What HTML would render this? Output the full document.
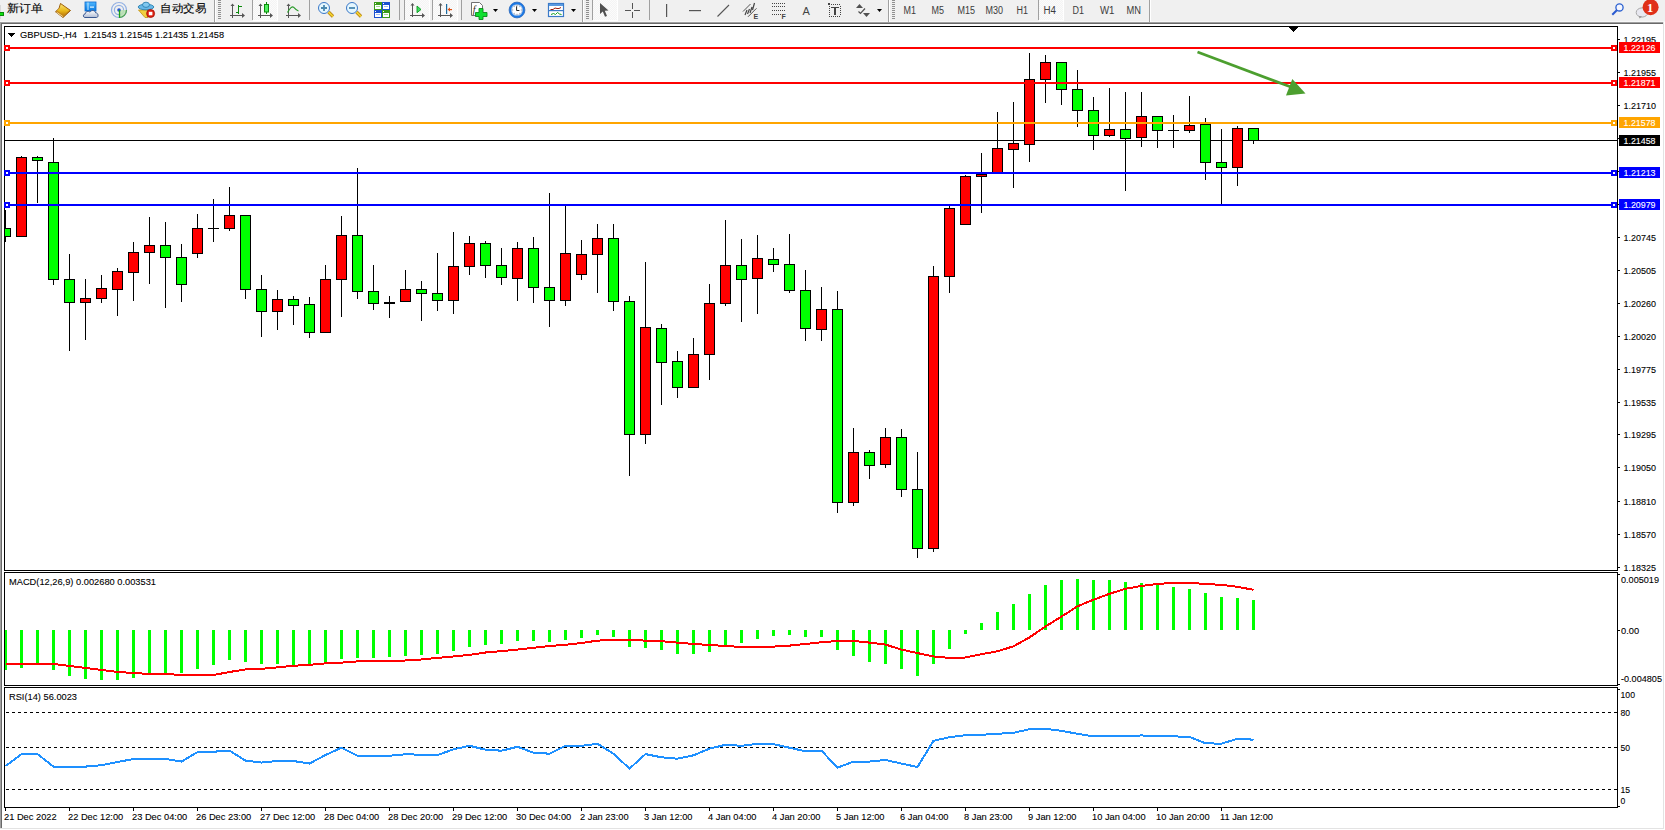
<!DOCTYPE html>
<html><head><meta charset="utf-8"><title>MT4</title>
<style>
html,body{margin:0;padding:0;width:1665px;height:830px;overflow:hidden;background:#ffffff;font-family:"Liberation Sans",sans-serif;}
.t{font-family:"Liberation Sans",sans-serif;font-size:9.6px;fill:#000;stroke:#000;stroke-width:0.1px;}
.w{fill:#fff;stroke:#fff;stroke-width:0.1px;}
#tb{position:absolute;left:0;top:0;width:1665px;height:22px;background:#f0f0f0;}
</style></head><body>
<div id="tb"><svg width="1665" height="22" viewBox="0 0 1665 22" style="position:absolute;left:0;top:0">
<defs>
<linearGradient id="gbook" x1="0" y1="0" x2="0" y2="1"><stop offset="0" stop-color="#f8e070"/><stop offset="0.6" stop-color="#e8b818"/><stop offset="1" stop-color="#c08010"/></linearGradient>
<linearGradient id="gcloud" x1="0" y1="0" x2="0" y2="1"><stop offset="0" stop-color="#ffffff"/><stop offset="1" stop-color="#b0bcd4"/></linearGradient>
<linearGradient id="gbox" x1="0" y1="0" x2="0" y2="1"><stop offset="0" stop-color="#50b8ff"/><stop offset="1" stop-color="#0878e0"/></linearGradient>
<radialGradient id="gclock" cx="0.5" cy="0.5" r="0.5"><stop offset="0.7" stop-color="#1e7ee0"/><stop offset="1" stop-color="#0a4aa8"/></radialGradient>
<pattern id="chk" width="2" height="2" patternUnits="userSpaceOnUse"><rect width="2" height="2" fill="#f4f4f4"/><rect width="1" height="1" fill="#fbfbfb"/><rect x="1" y="1" width="1" height="1" fill="#fbfbfb"/></pattern>
</defs>
<rect x="0" y="0" width="1665" height="21" fill="#f0f0f0"/>
<rect x="0" y="21" width="1665" height="1" fill="#f7f7f7"/>
<!-- partial icon at left -->
<rect x="0" y="5" width="1" height="14" fill="#d8d8d8"/>
<rect x="0" y="12" width="4" height="4" fill="#0a8a0a"/>
<rect x="0" y="13" width="3" height="2" fill="#10e010"/>
<!-- new order text -->
<text x="7" y="12.2" font-family="Liberation Sans, sans-serif" font-size="11" fill="#000" stroke="#000" stroke-width="0.12" textLength="36" lengthAdjust="spacingAndGlyphs">新订单</text>
<!-- book -->
<polygon points="60.5,3.5 70.5,10.5 63,17.5 55.5,11.8 59,8.5" fill="#c88a18" stroke="#9a5c08" stroke-width="1" stroke-linejoin="round"/>
<polygon points="60.8,4.3 69.3,10.3 63.5,15.3 57,10.6 59.6,8.2" fill="url(#gbook)"/>
<line x1="56.5" y1="12.2" x2="62.8" y2="16.6" stroke="#f8e8b0" stroke-width="0.9"/>
<!-- cloud doc -->
<rect x="85" y="2" width="11" height="9" fill="url(#gbox)" stroke="#0a6ad0" stroke-width="0.8"/>
<line x1="88" y1="2.5" x2="88" y2="10" stroke="#c8ecff" stroke-width="1"/>
<rect x="90" y="6.5" width="4" height="1.2" fill="#e8f8ff"/>
<path d="M85,17.5 C82.8,17.5 82.8,14 85.2,14 C85.2,11.5 88.6,10.6 90,12.2 C91,9.8 95.2,10 95.6,12.8 C98.6,12.8 98.8,17.5 96.5,17.5 Z" fill="url(#gcloud)" stroke="#3a5890" stroke-width="1"/>
<!-- radar -->
<circle cx="119" cy="10" r="7.5" fill="none" stroke="#7aa0e0" stroke-width="1.2" opacity="0.8"/>
<circle cx="119" cy="10" r="4.6" fill="none" stroke="#7aa0e0" stroke-width="1.2" opacity="0.8"/>
<path d="M119,10 L119,17.5 A7.5,7.5 0 0 0 126.5,10 Z" fill="#b8e0b0" opacity="0.85"/>
<path d="M119,17.5 A7.5,7.5 0 0 0 126.5,10" fill="none" stroke="#4aa050" stroke-width="1.2"/>
<circle cx="119" cy="10" r="1.8" fill="#2a5ad0"/>
<line x1="119.5" y1="10" x2="119.5" y2="17.8" stroke="#18a018" stroke-width="1.3"/>
<!-- auto trading hat -->
<polygon points="138.5,10 149,10 148,17.5 145,17.5" fill="#f0d040" stroke="#c09010" stroke-width="0.8"/>
<ellipse cx="146" cy="7" rx="7.8" ry="2.8" fill="#68b8e8" stroke="#2a80b0" stroke-width="0.9"/>
<ellipse cx="146" cy="4.8" rx="3.5" ry="2.6" fill="#80c8f0" stroke="#2a80b0" stroke-width="0.9"/>
<circle cx="150.6" cy="13.5" r="4" fill="#e02010" stroke="#a01008" stroke-width="0.8"/>
<rect x="148.8" y="11.8" width="3.6" height="3.5" fill="#fff"/>
<text x="160" y="12.2" font-family="Liberation Sans, sans-serif" font-size="11" fill="#000" stroke="#000" stroke-width="0.12" textLength="46" lengthAdjust="spacingAndGlyphs">自动交易</text>
<!-- separators & grips -->
<g fill="#a0a0a0">
<rect x="214" y="0" width="1" height="22"/>
<rect x="252" y="0" width="1" height="20"/>
<rect x="309" y="0" width="1" height="20"/>
<rect x="399" y="0" width="1" height="20"/>
<rect x="404" y="0" width="1" height="20"/>
<rect x="432" y="0" width="1" height="20"/>
<rect x="461" y="0" width="1" height="20"/>
<rect x="582" y="0" width="1" height="22"/>
<rect x="592" y="0" width="1" height="20"/>
<rect x="649" y="0" width="1" height="20"/>
<rect x="888" y="0" width="1" height="22"/>
<rect x="1038" y="0" width="1" height="20"/>
<rect x="1149" y="0" width="1" height="22"/>
</g>
<g fill="#ffffff"><rect x="215" y="0" width="1" height="22"/><rect x="583" y="0" width="1" height="22"/><rect x="889" y="0" width="1" height="22"/><rect x="1150" y="0" width="1" height="22"/></g>
<g fill="#909090">
<path d="M218,0h3v1h-3zM218,2h3v1h-3zM218,4h3v1h-3zM218,6h3v1h-3zM218,8h3v1h-3zM218,10h3v1h-3zM218,12h3v1h-3zM218,14h3v1h-3zM218,16h3v1h-3zM218,18h3v1h-3z"/>
<path d="M586,0h3v1h-3zM586,2h3v1h-3zM586,4h3v1h-3zM586,6h3v1h-3zM586,8h3v1h-3zM586,10h3v1h-3zM586,12h3v1h-3zM586,14h3v1h-3zM586,16h3v1h-3zM586,18h3v1h-3z"/>
<path d="M892,0h3v1h-3zM892,2h3v1h-3zM892,4h3v1h-3zM892,6h3v1h-3zM892,8h3v1h-3zM892,10h3v1h-3zM892,12h3v1h-3zM892,14h3v1h-3zM892,16h3v1h-3zM892,18h3v1h-3z"/>
</g>
<!-- pressed buttons -->
<rect x="253" y="0" width="24" height="20" fill="url(#chk)"/>
<rect x="253" y="20" width="25" height="1" fill="#fff"/><rect x="277" y="0" width="1" height="21" fill="#fff"/>
<rect x="405" y="0" width="24" height="20" fill="url(#chk)"/>
<rect x="405" y="20" width="25" height="1" fill="#fff"/><rect x="429" y="0" width="1" height="21" fill="#fff"/>
<rect x="433" y="0" width="24" height="20" fill="url(#chk)"/>
<rect x="433" y="20" width="25" height="1" fill="#fff"/><rect x="457" y="0" width="1" height="21" fill="#fff"/>
<rect x="593" y="0" width="24" height="20" fill="url(#chk)"/>
<rect x="593" y="20" width="25" height="1" fill="#fff"/><rect x="617" y="0" width="1" height="21" fill="#fff"/>
<rect x="1039" y="0" width="24" height="20" fill="url(#chk)"/>
<rect x="1039" y="20" width="25" height="1" fill="#fff"/><rect x="1063" y="0" width="1" height="21" fill="#fff"/>
<!-- axis icons -->
<g fill="#555" shape-rendering="crispEdges">
<rect x="232" y="5" width="1" height="13"/><rect x="230" y="15" width="13" height="1"/>
<rect x="260" y="5" width="1" height="13"/><rect x="258" y="15" width="13" height="1"/>
<rect x="288" y="5" width="1" height="13"/><rect x="286" y="15" width="13" height="1"/>
<rect x="412" y="4" width="1" height="13"/><rect x="410" y="15" width="13" height="1"/>
<rect x="440" y="4" width="1" height="13"/><rect x="438" y="15" width="13" height="1"/>
</g>
<g fill="#555">
<polygon points="230.5,6 232.5,3.5 234.5,6"/><polygon points="242,13 245,15.5 242,18"/>
<polygon points="258.5,6 260.5,3.5 262.5,6"/><polygon points="270,13 273,15.5 270,18"/>
<polygon points="286.5,6 288.5,3.5 290.5,6"/><polygon points="298,13 301,15.5 298,18"/>
<polygon points="410.5,5.5 412.5,3 414.5,5.5"/><polygon points="422,13 425,15.5 422,18"/>
<polygon points="438.5,5.5 440.5,3 442.5,5.5"/><polygon points="450,13 453,15.5 450,18"/>
</g>
<!-- bar icon green -->
<g fill="#0a8a0a" shape-rendering="crispEdges"><rect x="238" y="5" width="1" height="9"/><rect x="236" y="12" width="2" height="1"/><rect x="239" y="6" width="3" height="1"/></g>
<!-- candle icon -->
<rect x="266" y="2" width="1" height="12" fill="#0a8a0a"/>
<rect x="264.5" y="4.5" width="4" height="7.5" fill="#50f060" stroke="#0a8a0a" stroke-width="1"/>
<!-- line icon -->
<path d="M287.5,12.5 Q291.5,5.5 293.5,7.2 Q296.5,10.5 298.5,11" fill="none" stroke="#2a9a2a" stroke-width="1.2"/>
<!-- zoom in/out -->
<g>
<line x1="328.5" y1="12" x2="333" y2="16.5" stroke="#b07808" stroke-width="3.2"/>
<line x1="328.5" y1="12" x2="333" y2="16.5" stroke="#f0d030" stroke-width="1.8"/>
<circle cx="324" cy="8" r="5.5" fill="#e4f6fe" stroke="#3a78c8" stroke-width="1"/>
<path d="M321,8h6M324,5v6" stroke="#4a88b0" stroke-width="1.8"/>
<line x1="356.5" y1="12" x2="361" y2="16.5" stroke="#b07808" stroke-width="3.2"/>
<line x1="356.5" y1="12" x2="361" y2="16.5" stroke="#f0d030" stroke-width="1.8"/>
<circle cx="352" cy="8" r="5.5" fill="#e4f6fe" stroke="#3a78c8" stroke-width="1"/>
<path d="M349,8h6" stroke="#4a88b0" stroke-width="1.8"/>
</g>
<!-- tile -->
<g shape-rendering="crispEdges">
<rect x="374" y="2" width="8" height="8" fill="#3a9a18"/><rect x="382" y="2" width="8" height="8" fill="#1a50d0"/>
<rect x="374" y="10" width="8" height="8" fill="#1a50d0"/><rect x="382" y="10" width="8" height="8" fill="#3a9a18"/>
<rect x="375" y="5" width="6" height="4" fill="#fff"/><rect x="383" y="5" width="6" height="4" fill="#fff"/>
<rect x="375" y="13" width="6" height="4" fill="#fff"/><rect x="383" y="13" width="6" height="4" fill="#fff"/>
<rect x="376" y="6" width="4" height="1" fill="#a0d890"/><rect x="384" y="6" width="4" height="1" fill="#a0b8f0"/>
<rect x="376" y="14" width="4" height="1" fill="#a0b8f0"/><rect x="384" y="14" width="4" height="1" fill="#a0d890"/>
<rect x="375" y="3" width="1" height="1" fill="#fff"/><rect x="383" y="3" width="1" height="1" fill="#fff"/><rect x="375" y="11" width="1" height="1" fill="#fff"/><rect x="383" y="11" width="1" height="1" fill="#fff"/>
</g>
<!-- autoscroll triangle -->
<polygon points="417,6 421,9.5 417,12.7" fill="#40e060" stroke="#0a9a20" stroke-width="0.9"/>
<!-- chart shift -->
<rect x="446" y="4" width="1.2" height="10" fill="#1a6aa0"/>
<polygon points="447.5,9.5 450,7.5 450,11.5" fill="#e05010"/><rect x="449" y="9" width="3" height="1.2" fill="#e05010"/>
<!-- new indicator -->
<path d="M471.5,2.5h8l3,3v10h-11z" fill="#fff" stroke="#707070" stroke-width="1"/>
<text x="472.8" y="12.5" font-family="Liberation Serif, serif" font-style="italic" font-size="10" fill="#3a3020">f</text>
<path d="M479,8.5h4v4h4v4h-4v3h-4v-3h-3.5v-4h3.5z" fill="#10e030" stroke="#0a8a1a" stroke-width="0.9"/>
<polygon points="493,9 498,9 495.5,12" fill="#000"/>
<!-- clock -->
<circle cx="517" cy="10" r="6.8" fill="#fff" stroke="#1a7ae8" stroke-width="1.9"/>
<circle cx="517" cy="10" r="7.9" fill="none" stroke="#0a50b0" stroke-width="0.7"/>
<circle cx="517" cy="10" r="5.4" fill="none" stroke="#0a50b0" stroke-width="0.4"/><g fill="#8890a0"><rect x="516.5" y="5.2" width="1" height="1"/><rect x="516.5" y="13.8" width="1" height="1"/><rect x="512.2" y="9.5" width="1" height="1"/><rect x="520.8" y="9.5" width="1" height="1"/><rect x="514" y="6.3" width="0.8" height="0.8"/><rect x="519.2" y="6.3" width="0.8" height="0.8"/><rect x="514" y="12.9" width="0.8" height="0.8"/><rect x="519.2" y="12.9" width="0.8" height="0.8"/></g>
<path d="M516.6,6.3v4.2h2.8" fill="none" stroke="#222" stroke-width="1"/>
<polygon points="532,9 537,9 534.5,12" fill="#000"/>
<!-- template -->
<rect x="548.5" y="3.5" width="15" height="13" fill="#fff" stroke="#3a7ac8" stroke-width="1.2"/>
<rect x="549" y="4" width="14" height="2" fill="#5a9ae0"/>
<rect x="549" y="10" width="14" height="1.2" fill="#3a7ac8"/>
<polyline points="550.5,9.5 553,9.5 555,8 557,8.5 559,8.5 561,7.5" fill="none" stroke="#a02010" stroke-width="1"/>
<polyline points="551,14.5 553.5,13.5 555.5,14.5 557.5,12.5 559.5,14 561.5,14.5" fill="none" stroke="#10a020" stroke-width="1"/>
<polygon points="571,9 576,9 573.5,12" fill="#000"/>
<!-- cursor -->
<polygon points="600,3 600,14 602.8,11.5 605,16.8 607,15.9 604.8,10.8 608.5,10.5" fill="#505050"/>
<!-- crosshair -->
<g fill="#555" shape-rendering="crispEdges"><rect x="625" y="10" width="6" height="1"/><rect x="634" y="10" width="6" height="1"/><rect x="632" y="3" width="1" height="6"/><rect x="632" y="12" width="1" height="6"/></g>
<!-- vertical / horizontal / trend -->
<rect x="666" y="4" width="1.2" height="13" fill="#555"/>
<rect x="689" y="10" width="12" height="1.2" fill="#555"/>
<line x1="717.5" y1="16.5" x2="729" y2="5" stroke="#555" stroke-width="1.1"/>
<!-- channel -->
<line x1="743" y1="11.5" x2="750.5" y2="4" stroke="#555" stroke-width="1"/>
<line x1="748" y1="16.8" x2="756.5" y2="8.3" stroke="#555" stroke-width="1"/>
<path d="M745,15 L747,10 M747.5,14 L749.5,9 M750,13 L752,7 M752.5,10 L754.5,3" stroke="#444" stroke-width="1.2"/>
<text x="753.5" y="19" font-family="Liberation Sans, sans-serif" font-weight="bold" font-size="7" fill="#444">E</text>
<!-- fibo -->
<g fill="#444" shape-rendering="crispEdges">
<path d="M772,3h1v1h-1zM774,3h1v1h-1zM776,3h1v1h-1zM778,3h1v1h-1zM780,3h1v1h-1zM782,3h1v1h-1zM784,3h1v1h-1z"/>
<path d="M772,6h1v1h-1zM774,6h1v1h-1zM776,6h1v1h-1zM778,6h1v1h-1zM780,6h1v1h-1zM782,6h1v1h-1zM784,6h1v1h-1z"/>
<path d="M772,10h1v1h-1zM774,10h1v1h-1zM776,10h1v1h-1zM778,10h1v1h-1zM780,10h1v1h-1zM782,10h1v1h-1zM784,10h1v1h-1z"/>
<path d="M772,14h1v1h-1zM774,14h1v1h-1zM776,14h1v1h-1zM778,14h1v1h-1zM780,14h1v1h-1z"/>
</g>
<text x="781.5" y="19" font-family="Liberation Sans, sans-serif" font-weight="bold" font-size="7" fill="#444">F</text>
<text x="802.5" y="15" font-family="Liberation Sans, sans-serif" font-size="11" fill="#444">A</text>
<!-- text label -->
<g fill="#444" shape-rendering="crispEdges">
<path d="M829,4h1v1h-1zM831,4h1v1h-1zM833,4h1v1h-1zM835,4h1v1h-1zM837,4h1v1h-1zM839,4h1v1h-1z"/>
<path d="M829,16h1v1h-1zM831,16h1v1h-1zM833,16h1v1h-1zM835,16h1v1h-1zM837,16h1v1h-1zM839,16h1v1h-1z"/>
<path d="M829,6h1v1h-1zM829,8h1v1h-1zM829,10h1v1h-1zM829,12h1v1h-1zM829,14h1v1h-1z"/>
<path d="M840,6h1v1h-1zM840,8h1v1h-1zM840,10h1v1h-1zM840,12h1v1h-1zM840,14h1v1h-1z"/>
<rect x="828" y="3" width="2" height="2"/>
<rect x="831" y="7" width="8" height="1"/><rect x="834" y="7" width="2" height="8"/>
</g>
<!-- arrows -->
<polygon points="856,8 859.5,4 863,8" fill="#505050"/>
<polyline points="858.5,11.5 860.5,13.5 865,8.5" fill="none" stroke="#505050" stroke-width="1.2"/>
<polygon points="863,13 870,13 866.5,17" fill="#505050"/>
<polygon points="877,9 882,9 879.5,12" fill="#000"/>
<!-- timeframes -->
<g font-family="Liberation Sans, sans-serif" font-size="10" fill="#3c3c3c">
<text x="903.5" y="14" textLength="12.5" lengthAdjust="spacingAndGlyphs">M1</text>
<text x="931.5" y="14" textLength="12.5" lengthAdjust="spacingAndGlyphs">M5</text>
<text x="957.5" y="14" textLength="17.5" lengthAdjust="spacingAndGlyphs">M15</text>
<text x="985.5" y="14" textLength="17.5" lengthAdjust="spacingAndGlyphs">M30</text>
<text x="1016.5" y="14" textLength="11.5" lengthAdjust="spacingAndGlyphs">H1</text>
<text x="1043.5" y="14" textLength="12.5" lengthAdjust="spacingAndGlyphs">H4</text>
<text x="1072.5" y="14" textLength="11.5" lengthAdjust="spacingAndGlyphs">D1</text>
<text x="1100" y="14" textLength="14.5" lengthAdjust="spacingAndGlyphs">W1</text>
<text x="1126.5" y="14" textLength="14.5" lengthAdjust="spacingAndGlyphs">MN</text>
</g>
<!-- search -->
<circle cx="1619.5" cy="7.4" r="3.6" fill="#f4f6ff" stroke="#2a60d0" stroke-width="1.3"/>
<line x1="1616.8" y1="10.2" x2="1612.3" y2="14.8" stroke="#2a5ad0" stroke-width="2"/>
<!-- notification -->
<ellipse cx="1642" cy="12.5" rx="5.8" ry="4.6" fill="#e8e8f0" stroke="#a0a0a0" stroke-width="0.9"/>
<polygon points="1639,16 1639.5,18.5 1642,16.5" fill="#909090"/>
<circle cx="1650.6" cy="7.2" r="8" fill="#e03018"/>
<text x="1647" y="11.8" font-family="Liberation Serif, serif" font-weight="bold" font-size="12.5" fill="#fff">1</text>
</svg>
</div>
<svg width="1665" height="830" viewBox="0 0 1665 830" style="position:absolute;left:0;top:0" shape-rendering="crispEdges">
<defs>
<clipPath id="cm"><rect x="5" y="27" width="1612" height="543"/></clipPath>
<clipPath id="cd"><rect x="5" y="573" width="1612" height="112"/></clipPath>
<clipPath id="cr"><rect x="5" y="688" width="1612" height="119"/></clipPath>
</defs>
<!-- frame -->
<rect x="0" y="22" width="1664" height="1" fill="#a0a0a0"/>
<rect x="0" y="23" width="1664" height="1" fill="#696969"/>
<rect x="0" y="22" width="1" height="807" fill="#a0a0a0"/>
<rect x="1" y="23" width="1" height="806" fill="#696969"/>
<rect x="2" y="24" width="1661" height="804" fill="#fff"/>
<rect x="1663" y="22" width="1" height="807" fill="#e3e3e3"/>
<rect x="0" y="828" width="1664" height="1" fill="#e3e3e3"/>
<!-- window borders -->
<rect x="4.5" y="26.5" width="1613" height="544" fill="none" stroke="#000" stroke-width="1"/>
<rect x="4.5" y="572.5" width="1613" height="113" fill="none" stroke="#000" stroke-width="1"/>
<rect x="4.5" y="687.5" width="1613" height="120" fill="none" stroke="#000" stroke-width="1"/>
<g clip-path="url(#cm)"><rect x="5" y="140" width="1612" height="1" fill="#000"/><rect x="5" y="210" width="1" height="32" fill="#000"/><rect x="0" y="228" width="11" height="9" fill="#000"/><rect x="1" y="229" width="9" height="7" fill="#00ff00"/><rect x="21" y="156" width="1" height="81" fill="#000"/><rect x="16" y="157" width="11" height="80" fill="#000"/><rect x="17" y="158" width="9" height="78" fill="#ff0000"/><rect x="37" y="156" width="1" height="47" fill="#000"/><rect x="32" y="157" width="11" height="4" fill="#000"/><rect x="33" y="158" width="9" height="2" fill="#00ff00"/><rect x="53" y="138" width="1" height="147" fill="#000"/><rect x="48" y="162" width="11" height="118" fill="#000"/><rect x="49" y="163" width="9" height="116" fill="#00ff00"/><rect x="69" y="254" width="1" height="97" fill="#000"/><rect x="64" y="279" width="11" height="24" fill="#000"/><rect x="65" y="280" width="9" height="22" fill="#00ff00"/><rect x="85" y="279" width="1" height="61" fill="#000"/><rect x="80" y="298" width="11" height="5" fill="#000"/><rect x="81" y="299" width="9" height="3" fill="#ff0000"/><rect x="101" y="275" width="1" height="28" fill="#000"/><rect x="96" y="288" width="11" height="11" fill="#000"/><rect x="97" y="289" width="9" height="9" fill="#ff0000"/><rect x="117" y="268" width="1" height="48" fill="#000"/><rect x="112" y="271" width="11" height="19" fill="#000"/><rect x="113" y="272" width="9" height="17" fill="#ff0000"/><rect x="133" y="242" width="1" height="59" fill="#000"/><rect x="128" y="252" width="11" height="21" fill="#000"/><rect x="129" y="253" width="9" height="19" fill="#ff0000"/><rect x="149" y="217" width="1" height="67" fill="#000"/><rect x="144" y="245" width="11" height="8" fill="#000"/><rect x="145" y="246" width="9" height="6" fill="#ff0000"/><rect x="165" y="222" width="1" height="86" fill="#000"/><rect x="160" y="245" width="11" height="13" fill="#000"/><rect x="161" y="246" width="9" height="11" fill="#00ff00"/><rect x="181" y="244" width="1" height="58" fill="#000"/><rect x="176" y="257" width="11" height="28" fill="#000"/><rect x="177" y="258" width="9" height="26" fill="#00ff00"/><rect x="197" y="214" width="1" height="44" fill="#000"/><rect x="192" y="228" width="11" height="26" fill="#000"/><rect x="193" y="229" width="9" height="24" fill="#ff0000"/><rect x="213" y="199" width="1" height="43" fill="#000"/><rect x="208" y="228" width="11" height="1" fill="#000"/><rect x="229" y="187" width="1" height="44" fill="#000"/><rect x="224" y="215" width="11" height="14" fill="#000"/><rect x="225" y="216" width="9" height="12" fill="#ff0000"/><rect x="245" y="215" width="1" height="84" fill="#000"/><rect x="240" y="215" width="11" height="75" fill="#000"/><rect x="241" y="216" width="9" height="73" fill="#00ff00"/><rect x="261" y="275" width="1" height="62" fill="#000"/><rect x="256" y="289" width="11" height="23" fill="#000"/><rect x="257" y="290" width="9" height="21" fill="#00ff00"/><rect x="277" y="290" width="1" height="40" fill="#000"/><rect x="272" y="299" width="11" height="13" fill="#000"/><rect x="273" y="300" width="9" height="11" fill="#ff0000"/><rect x="293" y="296" width="1" height="29" fill="#000"/><rect x="288" y="299" width="11" height="7" fill="#000"/><rect x="289" y="300" width="9" height="5" fill="#00ff00"/><rect x="309" y="297" width="1" height="41" fill="#000"/><rect x="304" y="304" width="11" height="29" fill="#000"/><rect x="305" y="305" width="9" height="27" fill="#00ff00"/><rect x="325" y="265" width="1" height="68" fill="#000"/><rect x="320" y="279" width="11" height="54" fill="#000"/><rect x="321" y="280" width="9" height="52" fill="#ff0000"/><rect x="341" y="216" width="1" height="101" fill="#000"/><rect x="336" y="235" width="11" height="45" fill="#000"/><rect x="337" y="236" width="9" height="43" fill="#ff0000"/><rect x="357" y="168" width="1" height="131" fill="#000"/><rect x="352" y="235" width="11" height="57" fill="#000"/><rect x="353" y="236" width="9" height="55" fill="#00ff00"/><rect x="373" y="265" width="1" height="45" fill="#000"/><rect x="368" y="291" width="11" height="13" fill="#000"/><rect x="369" y="292" width="9" height="11" fill="#00ff00"/><rect x="389" y="296" width="1" height="22" fill="#000"/><rect x="384" y="302" width="11" height="2" fill="#000"/><rect x="405" y="270" width="1" height="32" fill="#000"/><rect x="400" y="289" width="11" height="13" fill="#000"/><rect x="401" y="290" width="9" height="11" fill="#ff0000"/><rect x="421" y="281" width="1" height="40" fill="#000"/><rect x="416" y="289" width="11" height="5" fill="#000"/><rect x="417" y="290" width="9" height="3" fill="#00ff00"/><rect x="437" y="253" width="1" height="58" fill="#000"/><rect x="432" y="293" width="11" height="8" fill="#000"/><rect x="433" y="294" width="9" height="6" fill="#00ff00"/><rect x="453" y="232" width="1" height="82" fill="#000"/><rect x="448" y="266" width="11" height="35" fill="#000"/><rect x="449" y="267" width="9" height="33" fill="#ff0000"/><rect x="469" y="236" width="1" height="39" fill="#000"/><rect x="464" y="243" width="11" height="24" fill="#000"/><rect x="465" y="244" width="9" height="22" fill="#ff0000"/><rect x="485" y="241" width="1" height="37" fill="#000"/><rect x="480" y="243" width="11" height="23" fill="#000"/><rect x="481" y="244" width="9" height="21" fill="#00ff00"/><rect x="501" y="248" width="1" height="37" fill="#000"/><rect x="496" y="265" width="11" height="13" fill="#000"/><rect x="497" y="266" width="9" height="11" fill="#00ff00"/><rect x="517" y="242" width="1" height="59" fill="#000"/><rect x="512" y="248" width="11" height="31" fill="#000"/><rect x="513" y="249" width="9" height="29" fill="#ff0000"/><rect x="533" y="237" width="1" height="66" fill="#000"/><rect x="528" y="248" width="11" height="40" fill="#000"/><rect x="529" y="249" width="9" height="38" fill="#00ff00"/><rect x="549" y="193" width="1" height="134" fill="#000"/><rect x="544" y="287" width="11" height="14" fill="#000"/><rect x="545" y="288" width="9" height="12" fill="#00ff00"/><rect x="565" y="206" width="1" height="100" fill="#000"/><rect x="560" y="253" width="11" height="48" fill="#000"/><rect x="561" y="254" width="9" height="46" fill="#ff0000"/><rect x="581" y="240" width="1" height="40" fill="#000"/><rect x="576" y="254" width="11" height="21" fill="#000"/><rect x="577" y="255" width="9" height="19" fill="#ff0000"/><rect x="597" y="224" width="1" height="69" fill="#000"/><rect x="592" y="238" width="11" height="17" fill="#000"/><rect x="593" y="239" width="9" height="15" fill="#ff0000"/><rect x="613" y="224" width="1" height="87" fill="#000"/><rect x="608" y="238" width="11" height="64" fill="#000"/><rect x="609" y="239" width="9" height="62" fill="#00ff00"/><rect x="629" y="296" width="1" height="180" fill="#000"/><rect x="624" y="301" width="11" height="134" fill="#000"/><rect x="625" y="302" width="9" height="132" fill="#00ff00"/><rect x="645" y="262" width="1" height="182" fill="#000"/><rect x="640" y="327" width="11" height="108" fill="#000"/><rect x="641" y="328" width="9" height="106" fill="#ff0000"/><rect x="661" y="324" width="1" height="81" fill="#000"/><rect x="656" y="328" width="11" height="35" fill="#000"/><rect x="657" y="329" width="9" height="33" fill="#00ff00"/><rect x="677" y="351" width="1" height="47" fill="#000"/><rect x="672" y="361" width="11" height="27" fill="#000"/><rect x="673" y="362" width="9" height="25" fill="#00ff00"/><rect x="693" y="338" width="1" height="50" fill="#000"/><rect x="688" y="354" width="11" height="34" fill="#000"/><rect x="689" y="355" width="9" height="32" fill="#ff0000"/><rect x="709" y="284" width="1" height="96" fill="#000"/><rect x="704" y="303" width="11" height="52" fill="#000"/><rect x="705" y="304" width="9" height="50" fill="#ff0000"/><rect x="725" y="220" width="1" height="86" fill="#000"/><rect x="720" y="265" width="11" height="39" fill="#000"/><rect x="721" y="266" width="9" height="37" fill="#ff0000"/><rect x="741" y="239" width="1" height="83" fill="#000"/><rect x="736" y="265" width="11" height="15" fill="#000"/><rect x="737" y="266" width="9" height="13" fill="#00ff00"/><rect x="757" y="235" width="1" height="79" fill="#000"/><rect x="752" y="258" width="11" height="21" fill="#000"/><rect x="753" y="259" width="9" height="19" fill="#ff0000"/><rect x="773" y="248" width="1" height="24" fill="#000"/><rect x="768" y="259" width="11" height="6" fill="#000"/><rect x="769" y="260" width="9" height="4" fill="#00ff00"/><rect x="789" y="234" width="1" height="59" fill="#000"/><rect x="784" y="264" width="11" height="27" fill="#000"/><rect x="785" y="265" width="9" height="25" fill="#00ff00"/><rect x="805" y="270" width="1" height="71" fill="#000"/><rect x="800" y="290" width="11" height="39" fill="#000"/><rect x="801" y="291" width="9" height="37" fill="#00ff00"/><rect x="821" y="287" width="1" height="54" fill="#000"/><rect x="816" y="309" width="11" height="21" fill="#000"/><rect x="817" y="310" width="9" height="19" fill="#ff0000"/><rect x="837" y="291" width="1" height="222" fill="#000"/><rect x="832" y="309" width="11" height="194" fill="#000"/><rect x="833" y="310" width="9" height="192" fill="#00ff00"/><rect x="853" y="428" width="1" height="78" fill="#000"/><rect x="848" y="452" width="11" height="51" fill="#000"/><rect x="849" y="453" width="9" height="49" fill="#ff0000"/><rect x="869" y="450" width="1" height="29" fill="#000"/><rect x="864" y="452" width="11" height="14" fill="#000"/><rect x="865" y="453" width="9" height="12" fill="#00ff00"/><rect x="885" y="428" width="1" height="40" fill="#000"/><rect x="880" y="437" width="11" height="28" fill="#000"/><rect x="881" y="438" width="9" height="26" fill="#ff0000"/><rect x="901" y="429" width="1" height="68" fill="#000"/><rect x="896" y="437" width="11" height="53" fill="#000"/><rect x="897" y="438" width="9" height="51" fill="#00ff00"/><rect x="917" y="452" width="1" height="106" fill="#000"/><rect x="912" y="489" width="11" height="60" fill="#000"/><rect x="913" y="490" width="9" height="58" fill="#00ff00"/><rect x="933" y="266" width="1" height="286" fill="#000"/><rect x="928" y="276" width="11" height="273" fill="#000"/><rect x="929" y="277" width="9" height="271" fill="#ff0000"/><rect x="949" y="206" width="1" height="87" fill="#000"/><rect x="944" y="208" width="11" height="69" fill="#000"/><rect x="945" y="209" width="9" height="67" fill="#ff0000"/><rect x="965" y="175" width="1" height="50" fill="#000"/><rect x="960" y="176" width="11" height="49" fill="#000"/><rect x="961" y="177" width="9" height="47" fill="#ff0000"/><rect x="981" y="153" width="1" height="60" fill="#000"/><rect x="976" y="174" width="11" height="3" fill="#000"/><rect x="977" y="175" width="9" height="1" fill="#ff0000"/><rect x="997" y="112" width="1" height="61" fill="#000"/><rect x="992" y="148" width="11" height="25" fill="#000"/><rect x="993" y="149" width="9" height="23" fill="#ff0000"/><rect x="1013" y="102" width="1" height="86" fill="#000"/><rect x="1008" y="143" width="11" height="7" fill="#000"/><rect x="1009" y="144" width="9" height="5" fill="#ff0000"/><rect x="1029" y="53" width="1" height="109" fill="#000"/><rect x="1024" y="79" width="11" height="66" fill="#000"/><rect x="1025" y="80" width="9" height="64" fill="#ff0000"/><rect x="1045" y="55" width="1" height="48" fill="#000"/><rect x="1040" y="62" width="11" height="18" fill="#000"/><rect x="1041" y="63" width="9" height="16" fill="#ff0000"/><rect x="1061" y="62" width="1" height="43" fill="#000"/><rect x="1056" y="62" width="11" height="28" fill="#000"/><rect x="1057" y="63" width="9" height="26" fill="#00ff00"/><rect x="1077" y="70" width="1" height="57" fill="#000"/><rect x="1072" y="89" width="11" height="22" fill="#000"/><rect x="1073" y="90" width="9" height="20" fill="#00ff00"/><rect x="1093" y="97" width="1" height="53" fill="#000"/><rect x="1088" y="110" width="11" height="26" fill="#000"/><rect x="1089" y="111" width="9" height="24" fill="#00ff00"/><rect x="1109" y="88" width="1" height="49" fill="#000"/><rect x="1104" y="129" width="11" height="7" fill="#000"/><rect x="1105" y="130" width="9" height="5" fill="#ff0000"/><rect x="1125" y="92" width="1" height="99" fill="#000"/><rect x="1120" y="129" width="11" height="10" fill="#000"/><rect x="1121" y="130" width="9" height="8" fill="#00ff00"/><rect x="1141" y="92" width="1" height="55" fill="#000"/><rect x="1136" y="116" width="11" height="22" fill="#000"/><rect x="1137" y="117" width="9" height="20" fill="#ff0000"/><rect x="1157" y="116" width="1" height="32" fill="#000"/><rect x="1152" y="116" width="11" height="15" fill="#000"/><rect x="1153" y="117" width="9" height="13" fill="#00ff00"/><rect x="1173" y="115" width="1" height="33" fill="#000"/><rect x="1168" y="130" width="11" height="1" fill="#000"/><rect x="1189" y="96" width="1" height="37" fill="#000"/><rect x="1184" y="125" width="11" height="6" fill="#000"/><rect x="1185" y="126" width="9" height="4" fill="#ff0000"/><rect x="1205" y="118" width="1" height="62" fill="#000"/><rect x="1200" y="124" width="11" height="39" fill="#000"/><rect x="1201" y="125" width="9" height="37" fill="#00ff00"/><rect x="1221" y="129" width="1" height="75" fill="#000"/><rect x="1216" y="162" width="11" height="6" fill="#000"/><rect x="1217" y="163" width="9" height="4" fill="#00ff00"/><rect x="1237" y="126" width="1" height="60" fill="#000"/><rect x="1232" y="128" width="11" height="40" fill="#000"/><rect x="1233" y="129" width="9" height="38" fill="#ff0000"/><rect x="1253" y="128" width="1" height="16" fill="#000"/><rect x="1248" y="128" width="11" height="13" fill="#000"/><rect x="1249" y="129" width="9" height="11" fill="#00ff00"/><rect x="5" y="47" width="1612" height="2" fill="#ff0000"/><rect x="5" y="82" width="1612" height="2" fill="#ff0000"/><rect x="5" y="122" width="1612" height="2" fill="#ffa500"/><rect x="5" y="172" width="1612" height="2" fill="#0000ff"/><rect x="5" y="204" width="1612" height="2" fill="#0000ff"/><line x1="1197.5" y1="52" x2="1291" y2="87" stroke="#4c9f2f" stroke-width="2.8" shape-rendering="auto"/><polygon points="1292.3,79 1305.5,93.5 1286,95.5" fill="#4c9f2f" shape-rendering="auto"/></g>
<g clip-path="url(#cd)"><rect x="4" y="630" width="3" height="40" fill="#00ff00"/><rect x="20" y="630" width="3" height="38" fill="#00ff00"/><rect x="36" y="630" width="3" height="33" fill="#00ff00"/><rect x="52" y="630" width="3" height="40" fill="#00ff00"/><rect x="68" y="630" width="3" height="46" fill="#00ff00"/><rect x="84" y="630" width="3" height="49" fill="#00ff00"/><rect x="100" y="630" width="3" height="50" fill="#00ff00"/><rect x="116" y="630" width="3" height="50" fill="#00ff00"/><rect x="132" y="630" width="3" height="48" fill="#00ff00"/><rect x="148" y="630" width="3" height="43" fill="#00ff00"/><rect x="164" y="630" width="3" height="43" fill="#00ff00"/><rect x="180" y="630" width="3" height="43" fill="#00ff00"/><rect x="196" y="630" width="3" height="39" fill="#00ff00"/><rect x="212" y="630" width="3" height="35" fill="#00ff00"/><rect x="228" y="630" width="3" height="30" fill="#00ff00"/><rect x="244" y="630" width="3" height="32" fill="#00ff00"/><rect x="260" y="630" width="3" height="34" fill="#00ff00"/><rect x="276" y="630" width="3" height="34" fill="#00ff00"/><rect x="292" y="630" width="3" height="35" fill="#00ff00"/><rect x="308" y="630" width="3" height="35" fill="#00ff00"/><rect x="324" y="630" width="3" height="32" fill="#00ff00"/><rect x="340" y="630" width="3" height="29" fill="#00ff00"/><rect x="356" y="630" width="3" height="28" fill="#00ff00"/><rect x="372" y="630" width="3" height="28" fill="#00ff00"/><rect x="388" y="630" width="3" height="27" fill="#00ff00"/><rect x="404" y="630" width="3" height="26" fill="#00ff00"/><rect x="420" y="630" width="3" height="25" fill="#00ff00"/><rect x="436" y="630" width="3" height="24" fill="#00ff00"/><rect x="452" y="630" width="3" height="21" fill="#00ff00"/><rect x="468" y="630" width="3" height="17" fill="#00ff00"/><rect x="484" y="630" width="3" height="15" fill="#00ff00"/><rect x="500" y="630" width="3" height="14" fill="#00ff00"/><rect x="516" y="630" width="3" height="11" fill="#00ff00"/><rect x="532" y="630" width="3" height="11" fill="#00ff00"/><rect x="548" y="630" width="3" height="12" fill="#00ff00"/><rect x="564" y="630" width="3" height="10" fill="#00ff00"/><rect x="580" y="630" width="3" height="8" fill="#00ff00"/><rect x="596" y="630" width="3" height="5" fill="#00ff00"/><rect x="612" y="630" width="3" height="7" fill="#00ff00"/><rect x="628" y="630" width="3" height="17" fill="#00ff00"/><rect x="644" y="630" width="3" height="18" fill="#00ff00"/><rect x="660" y="630" width="3" height="20" fill="#00ff00"/><rect x="676" y="630" width="3" height="24" fill="#00ff00"/><rect x="692" y="630" width="3" height="24" fill="#00ff00"/><rect x="708" y="630" width="3" height="22" fill="#00ff00"/><rect x="724" y="630" width="3" height="16" fill="#00ff00"/><rect x="740" y="630" width="3" height="13" fill="#00ff00"/><rect x="756" y="630" width="3" height="9" fill="#00ff00"/><rect x="772" y="630" width="3" height="6" fill="#00ff00"/><rect x="788" y="630" width="3" height="5" fill="#00ff00"/><rect x="804" y="630" width="3" height="7" fill="#00ff00"/><rect x="820" y="630" width="3" height="7" fill="#00ff00"/><rect x="836" y="630" width="3" height="20" fill="#00ff00"/><rect x="852" y="630" width="3" height="26" fill="#00ff00"/><rect x="868" y="630" width="3" height="32" fill="#00ff00"/><rect x="884" y="630" width="3" height="34" fill="#00ff00"/><rect x="900" y="630" width="3" height="39" fill="#00ff00"/><rect x="916" y="630" width="3" height="46" fill="#00ff00"/><rect x="932" y="630" width="3" height="34" fill="#00ff00"/><rect x="948" y="630" width="3" height="19" fill="#00ff00"/><rect x="964" y="630" width="3" height="4" fill="#00ff00"/><rect x="980" y="623" width="3" height="7" fill="#00ff00"/><rect x="996" y="612" width="3" height="18" fill="#00ff00"/><rect x="1012" y="604" width="3" height="26" fill="#00ff00"/><rect x="1028" y="594" width="3" height="36" fill="#00ff00"/><rect x="1044" y="585" width="3" height="45" fill="#00ff00"/><rect x="1060" y="580" width="3" height="50" fill="#00ff00"/><rect x="1076" y="579" width="3" height="51" fill="#00ff00"/><rect x="1092" y="580" width="3" height="50" fill="#00ff00"/><rect x="1108" y="580" width="3" height="50" fill="#00ff00"/><rect x="1124" y="582" width="3" height="48" fill="#00ff00"/><rect x="1140" y="583" width="3" height="47" fill="#00ff00"/><rect x="1156" y="584" width="3" height="46" fill="#00ff00"/><rect x="1172" y="587" width="3" height="43" fill="#00ff00"/><rect x="1188" y="589" width="3" height="41" fill="#00ff00"/><rect x="1204" y="593" width="3" height="37" fill="#00ff00"/><rect x="1220" y="597" width="3" height="33" fill="#00ff00"/><rect x="1236" y="598" width="3" height="32" fill="#00ff00"/><rect x="1252" y="600" width="3" height="30" fill="#00ff00"/><polyline points="5.5,664 21.5,664 37.5,664 53.5,664 69.5,666 85.5,668 101.5,670 117.5,672 133.5,673 149.5,674 165.5,674 181.5,675 197.5,675 213.5,675 229.5,672 245.5,669.4 261.5,668.8 277.5,667.4 293.5,665.8 309.5,664.8 325.5,663.4 341.5,662.6 357.5,661.4 373.5,660.9 389.5,660.9 405.5,660.5 421.5,659.5 437.5,657.9 453.5,656.5 469.5,654.9 485.5,652.5 501.5,651.1 517.5,649.6 533.5,647.8 549.5,646 565.5,644.8 581.5,643 597.5,640.6 613.5,640 629.5,640 645.5,640.6 661.5,641.2 677.5,642.6 693.5,644 709.5,645 725.5,646 741.5,647 757.5,647 773.5,646.6 789.5,645.6 805.5,644 821.5,642.2 837.5,641 853.5,641 869.5,642.6 885.5,644.6 901.5,649.6 917.5,653.1 933.5,656.5 949.5,657.9 965.5,657.5 981.5,654.2 997.5,651.3 1013.5,646.3 1029.5,637.4 1045.5,626.5 1061.5,616.6 1077.5,606.3 1093.5,599.7 1109.5,593.8 1125.5,588.8 1141.5,585.9 1157.5,583.9 1173.5,582.9 1189.5,582.9 1205.5,583.9 1221.5,584.9 1237.5,586.8 1253.5,589.8" fill="none" stroke="#ff0000" stroke-width="2" shape-rendering="crispEdges"/></g>
<g clip-path="url(#cr)"><line x1="6" y1="712.5" x2="1617" y2="712.5" stroke="#000" stroke-width="1" stroke-dasharray="3 3"/><line x1="6" y1="747.5" x2="1617" y2="747.5" stroke="#000" stroke-width="1" stroke-dasharray="3 3"/><line x1="6" y1="789.5" x2="1617" y2="789.5" stroke="#000" stroke-width="1" stroke-dasharray="3 3"/><polyline points="5.5,766 21.5,754.1 37.5,754.1 53.5,766.6 69.5,766.6 85.5,766.6 101.5,765.2 117.5,762 133.5,759 149.5,758.7 165.5,759 181.5,761.6 197.5,752.1 213.5,751.7 229.5,750.7 245.5,760.6 261.5,762.6 277.5,761 293.5,761 309.5,763.6 325.5,755 341.5,747.7 357.5,755.7 373.5,755.7 389.5,755.7 405.5,754.3 421.5,754.7 437.5,755.1 453.5,749.3 469.5,745.8 485.5,749.7 501.5,750.7 517.5,746.8 533.5,752.7 549.5,753.7 565.5,745.8 581.5,745.8 597.5,743.8 613.5,753.7 629.5,768.6 645.5,754.1 661.5,757.3 677.5,758.7 693.5,755.3 709.5,748.7 725.5,744.8 741.5,745.8 757.5,743.8 773.5,744.2 789.5,747.7 805.5,751.3 821.5,750.7 837.5,767.6 853.5,761.6 869.5,761.6 885.5,760 901.5,763.6 917.5,767 933.5,740.8 949.5,737.2 965.5,735.2 981.5,734.8 997.5,733.8 1013.5,732.8 1029.5,729.2 1045.5,728.8 1061.5,730.8 1077.5,733.8 1093.5,736.4 1109.5,736.4 1125.5,736.4 1141.5,735.4 1157.5,736.4 1173.5,736.4 1189.5,736.8 1205.5,743.3 1221.5,743.7 1237.5,738.7 1253.5,739.7" fill="none" stroke="#1e90ff" stroke-width="2" shape-rendering="crispEdges"/></g>
<rect x="4" y="45" width="6" height="6" fill="#ff0000"/><rect x="6" y="47" width="2" height="2" fill="#fff"/><rect x="1611" y="45" width="6" height="6" fill="#ff0000"/><rect x="1613" y="47" width="2" height="2" fill="#fff"/><rect x="4" y="80" width="6" height="6" fill="#ff0000"/><rect x="6" y="82" width="2" height="2" fill="#fff"/><rect x="1611" y="80" width="6" height="6" fill="#ff0000"/><rect x="1613" y="82" width="2" height="2" fill="#fff"/><rect x="4" y="120" width="6" height="6" fill="#ffa500"/><rect x="6" y="122" width="2" height="2" fill="#fff"/><rect x="1611" y="120" width="6" height="6" fill="#ffa500"/><rect x="1613" y="122" width="2" height="2" fill="#fff"/><rect x="4" y="170" width="6" height="6" fill="#0000ff"/><rect x="6" y="172" width="2" height="2" fill="#fff"/><rect x="1611" y="170" width="6" height="6" fill="#0000ff"/><rect x="1613" y="172" width="2" height="2" fill="#fff"/><rect x="4" y="202" width="6" height="6" fill="#0000ff"/><rect x="6" y="204" width="2" height="2" fill="#fff"/><rect x="1611" y="202" width="6" height="6" fill="#0000ff"/><rect x="1613" y="204" width="2" height="2" fill="#fff"/><rect x="1618" y="39" width="2" height="1" fill="#000"/><text x="1623.5" y="43" class="t" textLength="32.5" lengthAdjust="spacingAndGlyphs">1.22195</text><rect x="1618" y="72" width="2" height="1" fill="#000"/><text x="1623.5" y="76" class="t" textLength="32.5" lengthAdjust="spacingAndGlyphs">1.21955</text><rect x="1618" y="105" width="2" height="1" fill="#000"/><text x="1623.5" y="109" class="t" textLength="32.5" lengthAdjust="spacingAndGlyphs">1.21710</text><rect x="1618" y="138" width="2" height="1" fill="#000"/><rect x="1618" y="171" width="2" height="1" fill="#000"/><rect x="1618" y="204" width="2" height="1" fill="#000"/><rect x="1618" y="237" width="2" height="1" fill="#000"/><text x="1623.5" y="241" class="t" textLength="32.5" lengthAdjust="spacingAndGlyphs">1.20745</text><rect x="1618" y="270" width="2" height="1" fill="#000"/><text x="1623.5" y="274" class="t" textLength="32.5" lengthAdjust="spacingAndGlyphs">1.20505</text><rect x="1618" y="303" width="2" height="1" fill="#000"/><text x="1623.5" y="307" class="t" textLength="32.5" lengthAdjust="spacingAndGlyphs">1.20260</text><rect x="1618" y="336" width="2" height="1" fill="#000"/><text x="1623.5" y="340" class="t" textLength="32.5" lengthAdjust="spacingAndGlyphs">1.20020</text><rect x="1618" y="369" width="2" height="1" fill="#000"/><text x="1623.5" y="373" class="t" textLength="32.5" lengthAdjust="spacingAndGlyphs">1.19775</text><rect x="1618" y="402" width="2" height="1" fill="#000"/><text x="1623.5" y="406" class="t" textLength="32.5" lengthAdjust="spacingAndGlyphs">1.19535</text><rect x="1618" y="434" width="2" height="1" fill="#000"/><text x="1623.5" y="438" class="t" textLength="32.5" lengthAdjust="spacingAndGlyphs">1.19295</text><rect x="1618" y="467" width="2" height="1" fill="#000"/><text x="1623.5" y="471" class="t" textLength="32.5" lengthAdjust="spacingAndGlyphs">1.19050</text><rect x="1618" y="501" width="2" height="1" fill="#000"/><text x="1623.5" y="505" class="t" textLength="32.5" lengthAdjust="spacingAndGlyphs">1.18810</text><rect x="1618" y="534" width="2" height="1" fill="#000"/><text x="1623.5" y="538" class="t" textLength="32.5" lengthAdjust="spacingAndGlyphs">1.18570</text><rect x="1618" y="567" width="2" height="1" fill="#000"/><text x="1623.5" y="571" class="t" textLength="32.5" lengthAdjust="spacingAndGlyphs">1.18325</text><rect x="1619" y="42" width="41" height="11" fill="#ff0000"/><text x="1623.5" y="51" class="t w" textLength="32" lengthAdjust="spacingAndGlyphs">1.22126</text><rect x="1619" y="77" width="41" height="11" fill="#ff0000"/><text x="1623.5" y="86" class="t w" textLength="32" lengthAdjust="spacingAndGlyphs">1.21871</text><rect x="1619" y="117" width="41" height="11" fill="#ffa500"/><text x="1623.5" y="126" class="t w" textLength="32" lengthAdjust="spacingAndGlyphs">1.21578</text><rect x="1619" y="135" width="41" height="11" fill="#000000"/><text x="1623.5" y="144" class="t w" textLength="32" lengthAdjust="spacingAndGlyphs">1.21458</text><rect x="1619" y="167" width="41" height="11" fill="#0000ff"/><text x="1623.5" y="176" class="t w" textLength="32" lengthAdjust="spacingAndGlyphs">1.21213</text><rect x="1619" y="199" width="41" height="11" fill="#0000ff"/><text x="1623.5" y="208" class="t w" textLength="32" lengthAdjust="spacingAndGlyphs">1.20979</text><rect x="1618" y="630" width="2" height="1" fill="#000"/><text x="1621" y="583.2" class="t" textLength="38" lengthAdjust="spacingAndGlyphs">0.005019</text><rect x="1618" y="574" width="2" height="1" fill="#000"/><rect x="1618" y="684" width="2" height="1" fill="#000"/><rect x="1618" y="689" width="2" height="1" fill="#000"/><rect x="1618" y="806" width="2" height="1" fill="#000"/><text x="1621" y="634" class="t" transform="translate(1621 634) scale(0.969 1) translate(-1621 -634)">0.00</text><text x="1621" y="682" class="t" textLength="41" lengthAdjust="spacingAndGlyphs">-0.004805</text><text x="1620.5" y="697.7" class="t" textLength="14.5" lengthAdjust="spacingAndGlyphs">100</text><text x="1620.5" y="715.7" class="t" textLength="9.6" lengthAdjust="spacingAndGlyphs">80</text><text x="1620.5" y="750.7" class="t" textLength="9.6" lengthAdjust="spacingAndGlyphs">50</text><text x="1620.5" y="792.7" class="t" textLength="9.6" lengthAdjust="spacingAndGlyphs">15</text><text x="1620.5" y="803.7" class="t" textLength="4.8" lengthAdjust="spacingAndGlyphs">0</text><rect x="5" y="808" width="1" height="3" fill="#000"/><text x="4" y="820" class="t" transform="translate(4 820) scale(0.969 1) translate(-4 -820)">21 Dec 2022</text><rect x="69" y="808" width="1" height="3" fill="#000"/><text x="68" y="820" class="t" transform="translate(68 820) scale(0.969 1) translate(-68 -820)">22 Dec 12:00</text><rect x="133" y="808" width="1" height="3" fill="#000"/><text x="132" y="820" class="t" transform="translate(132 820) scale(0.969 1) translate(-132 -820)">23 Dec 04:00</text><rect x="197" y="808" width="1" height="3" fill="#000"/><text x="196" y="820" class="t" transform="translate(196 820) scale(0.969 1) translate(-196 -820)">26 Dec 23:00</text><rect x="261" y="808" width="1" height="3" fill="#000"/><text x="260" y="820" class="t" transform="translate(260 820) scale(0.969 1) translate(-260 -820)">27 Dec 12:00</text><rect x="325" y="808" width="1" height="3" fill="#000"/><text x="324" y="820" class="t" transform="translate(324 820) scale(0.969 1) translate(-324 -820)">28 Dec 04:00</text><rect x="389" y="808" width="1" height="3" fill="#000"/><text x="388" y="820" class="t" transform="translate(388 820) scale(0.969 1) translate(-388 -820)">28 Dec 20:00</text><rect x="453" y="808" width="1" height="3" fill="#000"/><text x="452" y="820" class="t" transform="translate(452 820) scale(0.969 1) translate(-452 -820)">29 Dec 12:00</text><rect x="517" y="808" width="1" height="3" fill="#000"/><text x="516" y="820" class="t" transform="translate(516 820) scale(0.969 1) translate(-516 -820)">30 Dec 04:00</text><rect x="581" y="808" width="1" height="3" fill="#000"/><text x="580" y="820" class="t" transform="translate(580 820) scale(0.969 1) translate(-580 -820)">2 Jan 23:00</text><rect x="645" y="808" width="1" height="3" fill="#000"/><text x="644" y="820" class="t" transform="translate(644 820) scale(0.969 1) translate(-644 -820)">3 Jan 12:00</text><rect x="709" y="808" width="1" height="3" fill="#000"/><text x="708" y="820" class="t" transform="translate(708 820) scale(0.969 1) translate(-708 -820)">4 Jan 04:00</text><rect x="773" y="808" width="1" height="3" fill="#000"/><text x="772" y="820" class="t" transform="translate(772 820) scale(0.969 1) translate(-772 -820)">4 Jan 20:00</text><rect x="837" y="808" width="1" height="3" fill="#000"/><text x="836" y="820" class="t" transform="translate(836 820) scale(0.969 1) translate(-836 -820)">5 Jan 12:00</text><rect x="901" y="808" width="1" height="3" fill="#000"/><text x="900" y="820" class="t" transform="translate(900 820) scale(0.969 1) translate(-900 -820)">6 Jan 04:00</text><rect x="965" y="808" width="1" height="3" fill="#000"/><text x="964" y="820" class="t" transform="translate(964 820) scale(0.969 1) translate(-964 -820)">8 Jan 23:00</text><rect x="1029" y="808" width="1" height="3" fill="#000"/><text x="1028" y="820" class="t" transform="translate(1028 820) scale(0.969 1) translate(-1028 -820)">9 Jan 12:00</text><rect x="1093" y="808" width="1" height="3" fill="#000"/><text x="1092" y="820" class="t" transform="translate(1092 820) scale(0.969 1) translate(-1092 -820)">10 Jan 04:00</text><rect x="1157" y="808" width="1" height="3" fill="#000"/><text x="1156" y="820" class="t" transform="translate(1156 820) scale(0.969 1) translate(-1156 -820)">10 Jan 20:00</text><rect x="1221" y="808" width="1" height="3" fill="#000"/><text x="1220" y="820" class="t" transform="translate(1220 820) scale(0.969 1) translate(-1220 -820)">11 Jan 12:00</text><rect x="8" y="33" width="7" height="1" fill="#000"/><rect x="9" y="34" width="5" height="1" fill="#000"/><rect x="10" y="35" width="3" height="1" fill="#000"/><rect x="11" y="36" width="1" height="1" fill="#000"/><text x="20" y="38" class="t" textLength="57" lengthAdjust="spacingAndGlyphs">GBPUSD-,H4</text><text x="83.5" y="38" class="t" textLength="140.5" lengthAdjust="spacingAndGlyphs">1.21543 1.21545 1.21435 1.21458</text><text x="9" y="585" class="t" textLength="147" lengthAdjust="spacingAndGlyphs">MACD(12,26,9) 0.002680 0.003531</text><text x="9" y="700" class="t" textLength="68" lengthAdjust="spacingAndGlyphs">RSI(14) 56.0023</text><rect x="1289" y="26" width="9" height="1" fill="#000"/><rect x="1289" y="27" width="9" height="1" fill="#000"/><rect x="1290" y="28" width="7" height="1" fill="#000"/><rect x="1291" y="29" width="5" height="1" fill="#000"/><rect x="1292" y="30" width="3" height="1" fill="#000"/><rect x="1293" y="31" width="1" height="1" fill="#000"/>
</svg>
</body></html>
